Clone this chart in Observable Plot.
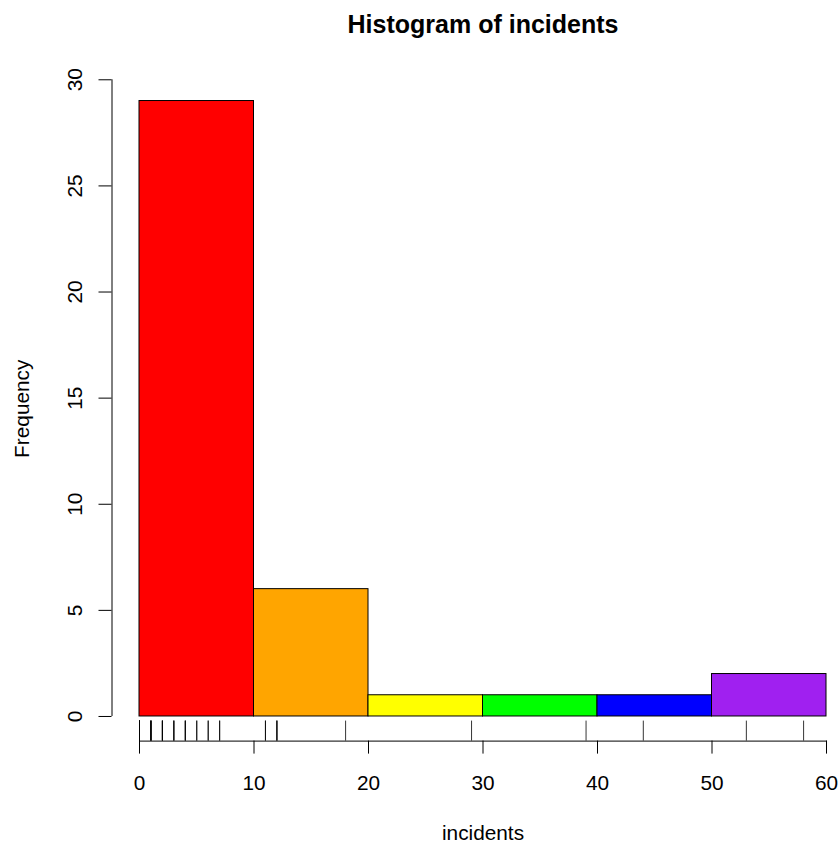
<!DOCTYPE html>
<html>
<head>
<meta charset="utf-8">
<script src="https://cdn.jsdelivr.net/npm/d3@7"></script>
<script src="https://cdn.jsdelivr.net/npm/@observablehq/plot@0.6"></script>
<style>
  body { margin: 0; background: #fff; }
</style>
</head>
<body>
<div id="chart"></div>
<script>
// Observed incident counts (one value per observation)
const incidents = [
  0, 0, 0, 0, 0, 0, 0, 0,
  1, 1, 1, 1, 1,
  2, 2, 2, 2,
  3, 3, 3,
  4, 4, 4,
  5, 5,
  6, 6,
  7, 7,
  11, 11, 12, 12, 12, 18,
  29,
  39,
  44,
  53, 58
];

// Histogram breaks and one colour per bin
const breaks = [0, 10, 20, 30, 40, 50, 60];
const binColors = ["#FF0000", "#FFA500", "#FFFF00", "#00FF00", "#0000FF", "#A020F0"];

// Axis ticks
const xTicks = [0, 10, 20, 30, 40, 50, 60];
const yTicks = [0, 5, 10, 15, 20, 25, 30];

const titleText = "Histogram of incidents";
const xLabel = "incidents";
const yLabel = "Frequency";

const W = 840, H = 844;
const mTop = 75.9, mBottom = 103.4, mLeft = 139, mRight = 14;
const frameH = H - mTop - mBottom;
const rugLen = 20;

// bins are right-closed, lowest break included
const binOf = d => Math.max(0, d3.bisectLeft(breaks, d) - 1);

const chart = Plot.plot({
  width: W,
  height: H,
  marginTop: mTop,
  marginBottom: mBottom,
  marginLeft: mLeft,
  marginRight: mRight,
  style: { fontFamily: "'Liberation Sans', Arial, Helvetica, sans-serif", fontSize: "20.8px", background: "#fff", color: "#000" },
  x: { domain: [breaks[0], breaks[breaks.length - 1]] },
  y: { domain: [-1.16, 30.16] },
  color: { type: "identity" },
  marks: [
    Plot.rectY(incidents, Plot.binX({ y: "count" }, {
      x: d => d,
      thresholds: breaks,
      fill: d => binColors[binOf(d)],
      stroke: "#000",
      strokeWidth: 1,
      inset: 0
    })),
    // rug of individual observations
    Plot.ruleX(incidents, {
      x: d => d,
      insetTop: frameH - rugLen,
      stroke: "#000",
      strokeWidth: 0.8
    }),
    // x axis
    Plot.frame({ anchor: "bottom", stroke: "#000" }),
    Plot.axisX({ ticks: xTicks, tickSize: 13, tickPadding: 21.4, label: null, fontSize: 20.8 }),
    // y axis, offset to the left of the data region
    Plot.ruleX([xTicks[0]], { y1: yTicks[0], y2: yTicks[yTicks.length - 1], dx: -27.5, stroke: "#000" }),
    Plot.axisY({ ticks: yTicks, tickSize: 13, dx: -27.5, tickFormat: () => "", label: null }),
    Plot.text(yTicks, {
      y: d => d,
      text: d => String(d),
      frameAnchor: "left",
      dx: -57.3,
      rotate: -90,
      lineAnchor: "bottom",
      textAnchor: "middle",
      fontSize: 20.8
    }),
    // titles
    Plot.text([titleText], { frameAnchor: "top", dy: -43.7, lineAnchor: "bottom", fontWeight: "bold", fontSize: 25 }),
    Plot.text([xLabel], { frameAnchor: "bottom", dy: 98.7, lineAnchor: "bottom", fontSize: 20.8 }),
    Plot.text([yLabel], { frameAnchor: "left", dx: -110.5, rotate: -90, lineAnchor: "bottom", textAnchor: "middle", fontSize: 20.8 })
  ]
});

document.getElementById("chart").appendChild(chart);
</script>
</body>
</html>
